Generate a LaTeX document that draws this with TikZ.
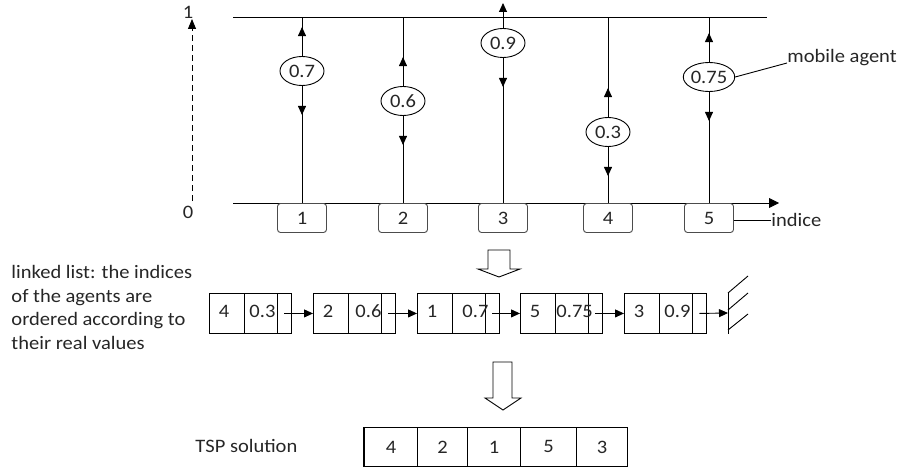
\documentclass[tikz,border=0pt]{standalone}
\usepackage{fontspec}
\setmainfont{Carlito}[FakeStretch=1.08]
\usetikzlibrary{arrows.meta,shapes.geometric}
\begin{document}
\begin{tikzpicture}[x=1pt,y=-1pt,line width=0.9pt,
  font=\fontsize{19}{23.5}\selectfont, text=black!85,
  agent/.style={ellipse,draw,fill=white,minimum width=44pt,minimum height=29pt,inner sep=0pt},
  idx/.style={rectangle,rounded corners=3pt,draw=black!70,fill=white,minimum width=49pt,minimum height=29pt,inner sep=0pt},
  tipa/.style={-{Triangle[length=9pt,width=8pt]}},
  cell/.style={draw,minimum height=40pt,inner sep=0pt,anchor=north west},
  tcell/.style={draw,minimum height=39pt,inner sep=0pt,anchor=north west},
  val/.style={anchor=west,inner sep=0pt},
  lbl/.style={inner sep=0pt},
  blockarrow/.style={draw,line width=0.9pt,fill=white}]
\useasboundingbox (0,0) rectangle (900,468);

% axes
\coordinate (TL) at (233,17);
\coordinate (TR) at (767,17);
\coordinate (AL) at (233,203);
\coordinate (AR) at (779,203);
\draw (TL) -- (TR);
\draw[-{Triangle[length=10pt,width=10pt]}] (AL) -- (AR);
\coordinate (D0) at (192,201);
\coordinate (D1) at (192,19);
\draw[dash pattern=on 6pt off 4pt,-{Triangle[length=10pt,width=8pt]}] (D0) -- (D1);
\node[lbl] (one) at (188,12) {1};
\node[lbl] (zero) at (188,212) {0};

% index boxes
\node[idx] (i1) at (302,218) {1};
\node[idx] (i2) at (403,218) {2};
\node[idx] (i3) at (503,218) {3};
\node[idx] (i4) at (608,218) {4};
\node[idx] (i5) at (709,218) {5};

% agents
\node[agent] (a1) at (302,71) {0.7};
\node[agent] (a2) at (403,101) {0.6};
\node[agent] (a3) at (503,43) {0.9};
\node[agent] (a4) at (608,132) {0.3};
\node[agent] (a5) at (709,77) {0.75};

\coordinate (t1) at (302,17);
\coordinate (t2) at (403,17);
\coordinate (t3) at (503,3);
\coordinate (t4) at (608,17);
\coordinate (t5) at (709,17);

\foreach \k in {1,2,4,5}{
  \draw (i\k.north) -- (a\k.south);
  \draw (a\k.north) -- (t\k);
  \draw[tipa] (a\k.north) -- ++(0,-29);
  \draw[tipa] (a\k.south) -- ++(0,29);
}
\draw (i3.north) -- (a3.south);
\draw[tipa] (a3.north) -- (t3);
\draw[tipa] (a3.south) -- ++(0,29);

% labels
\node[anchor=base west,inner sep=0pt] (lma) at (787,63) {mobile agent};
\draw (a5.east) -- (lma.base west);
\node[anchor=west,inner sep=0pt] (lind) at (771,220) {indice};
\draw (i5.east |- lind) -- (lind.west);

% block arrows
\draw[blockarrow] (488,250) -- (510,250) -- (510,269) -- (520,269) -- (499,277) -- (478,269) -- (488,269) -- cycle;
\draw[blockarrow] (493,362) -- (512,362) -- (512,398) -- (521,398) -- (503,410) -- (485,398) -- (493,398) -- cycle;

% linked list text
\node[anchor=north west,align=left,inner sep=0pt] (ltxt) at (11,265) {linked list: the indices\\of the agents are\\ordered according to\\their real values};

% linked list boxes
\foreach \k/\L/\id/\v/\off in {1/209/4/0.3/5,2/313/2/0.6/7,3/417/1/0.7/10,4/520/5/0.75/1,5/624/3/0.9/5}{
  \node[cell,minimum width=35pt] (n\k a) at (\L,293) {};
  \node[cell,minimum width=33pt] (n\k b) at (\L+35,293) {};
  \node[cell,minimum width=14pt] (n\k c) at (\L+68,293) {};
  \node[lbl] (n\k id) at (\L+15,311) {\id};
  \node[val] (n\k v) at (\L+35+\off,311) {\v};
}
\foreach \k/\m in {1/2,2/3,3/4,4/5}{
  \draw[tipa] (n\k c.center) -- (n\m a.west);
}
\coordinate (g0) at (728,293);
\coordinate (g1) at (728,334);
\coordinate (gm) at (728,313);
\draw[tipa] (n5c.center) -- (gm);
\draw (g0) -- (g1);
\draw (g0) -- ++(20,-17);
\draw (728,310) -- ++(20,-17);
\draw (728,330) -- ++(20,-16);

% TSP solution
\node[anchor=west,inner sep=0pt] (tsp) at (195,446) {TSP solution};
\node[tcell,minimum width=53pt] (s1) at (364,427) {4};
\node[tcell,minimum width=50pt] (s2) at (417,427) {2};
\node[tcell,minimum width=53pt] (s3) at (467,427) {1};
\node[tcell,minimum width=56pt] (s4) at (520,427) {5};
\node[tcell,minimum width=51pt] (s5) at (576,427) {3};
\draw[line width=1.8pt] (s1.north west) -- (s1.south west);
\end{tikzpicture}
\end{document}
